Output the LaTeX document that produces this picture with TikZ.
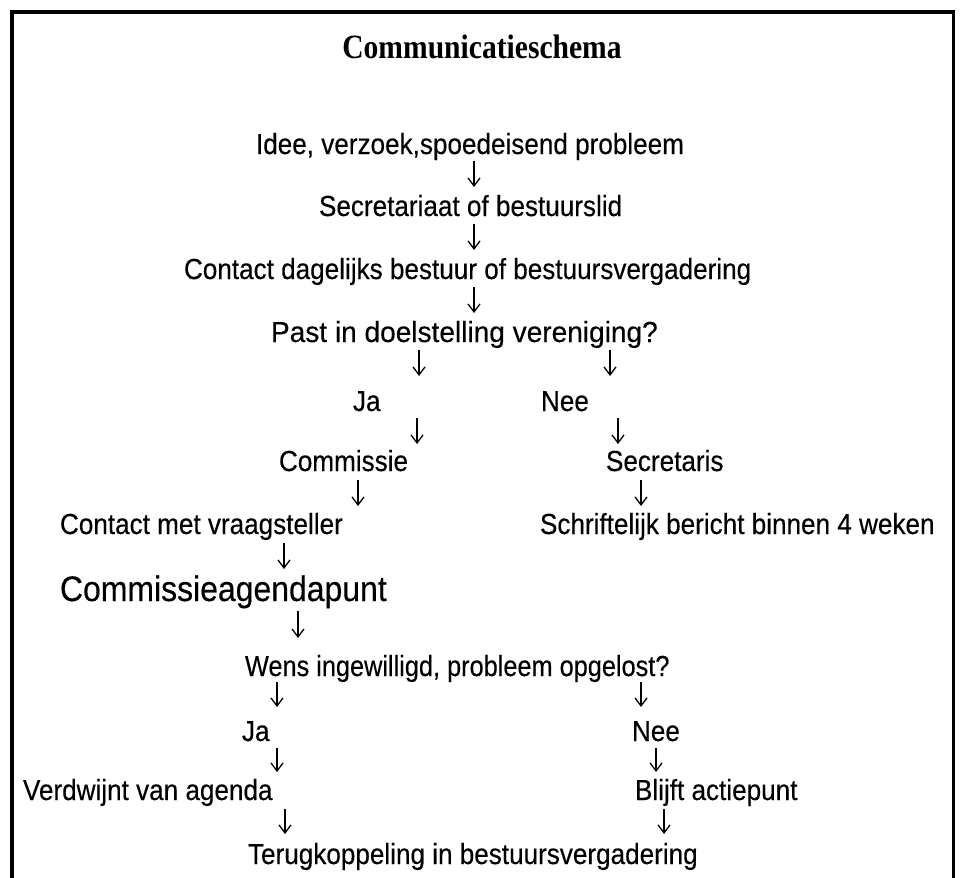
\documentclass[tikz,border=0pt]{standalone}
\usepackage{graphicx}
\usepackage{fontspec}
\setmainfont{Liberation Sans}
\newfontfamily\bodyfont[FakeStretch=0.9,FakeBold=0.3]{Liberation Sans}
\newfontfamily\titlefont[FakeStretch=0.87]{Liberation Serif}
\usetikzlibrary{arrows.meta}
\begin{document}
\begin{tikzpicture}[x=1pt,y=-1pt,
  txt/.style={anchor=base west,inner sep=0pt,outer sep=0pt,font=\bodyfont\fontsize{29}{31}\selectfont},
  bigtxt/.style={txt,font=\bodyfont\fontsize{35.5}{37}\selectfont},
  ttl/.style={anchor=base,inner sep=0pt,font=\titlefont\bfseries\fontsize{34}{36}\selectfont},
  arr/.style={line width=1.3pt,-{Straight Barb[length=8pt,width=12pt,line width=1.3pt]}},
  frame/.style={line width=3.5pt,line join=miter}]
\useasboundingbox (0,0) rectangle (961,878);
\coordinate (f1) at (12,880);
\coordinate (f2) at (12,11.8);
\coordinate (f3) at (953.3,11.8);
\coordinate (f4) at (953.3,880);
\draw[frame] (f1) -- (f2) -- (f3) -- (f4);

\node[ttl] (title) at (482,58) {Communicatieschema};

\node[txt] (idee) at (256,154) {Idee, verzoek,spoedeisend probleem};
\node[txt] (secr) at (319,216) {Secretariaat of bestuurslid};
\node[txt] (cont) at (184,279) {Contact dagelijks bestuur of bestuursvergadering};
\node[txt] (past) at (271,342) {\scalebox{1.075}[1]{Past in doelstelling vereniging?}};
\node[txt] (ja1) at (353,411) {Ja};
\node[txt] (nee1) at (541,411) {Nee};
\node[txt] (comm) at (279,471) {Commissie};
\node[txt] (secris) at (606,471) {Secretaris};
\node[txt] (cmv) at (60,534) {Contact met vraagsteller};
\node[txt] (schr) at (540,534) {Schriftelijk bericht binnen 4 weken};
\node[bigtxt] (cap) at (60,601) {Commissieagendapunt};
\node[txt] (wens) at (245,676) {\scalebox{0.97}[1]{Wens ingewilligd, probleem opgelost?}};
\node[txt] (ja2) at (242,741) {Ja};
\node[txt] (nee2) at (632,741) {Nee};
\node[txt] (verd) at (23,800) {Verdwijnt van agenda};
\node[txt] (blijft) at (635,800) {Blijft actiepunt};
\node[txt] (terug) at (248,864) {Terugkoppeling in bestuursvergadering};

\foreach \n/\x/\ya/\yb in {a1/474/161/187, a2/474/224/250, a3/474/287/313,
  a4/419/350/376, a5/610/350/376, a6/417/418/444, a7/618/418/444,
  a8/358/480/506, a9/641/480/506, a10/284/543/569, a11/298/611/638,
  a12/277/682/707, a13/641/682/707, a14/277/748/772, a15/656/748/772,
  a16/285/809/834, a17/664/809/834}{
  \coordinate (\n s) at (\x,\ya);
  \coordinate (\n e) at (\x,\yb);
  \draw[arr] (\n s) -- (\n e);
}
\end{tikzpicture}
\end{document}
